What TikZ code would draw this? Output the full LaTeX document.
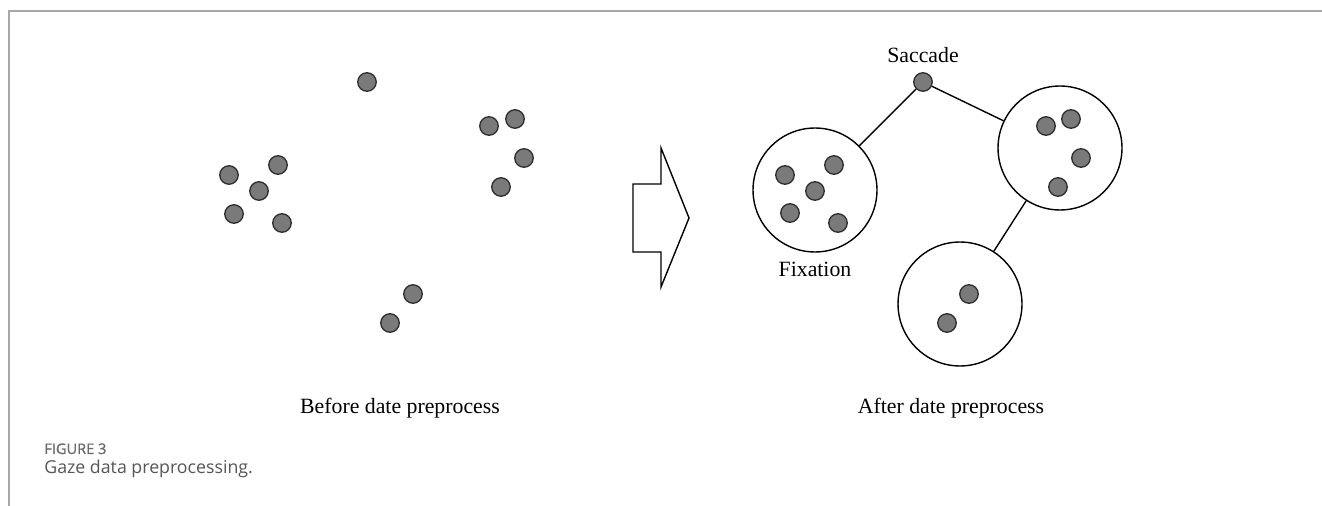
\documentclass[tikz,border=0pt]{standalone}
\usepackage{fontspec}
\setmainfont{Liberation Serif}
\newfontfamily\captionfont{Open Sans}
\newfontfamily\figlabelfont{Open Sans}[FakeBold=1.2]
\usepackage{tikz}
\usetikzlibrary{positioning}
\definecolor{gazegray}{HTML}{7A7A7A}
\definecolor{gazeedge}{HTML}{2E2E2E}
\definecolor{framegray}{HTML}{A8A8A8}
\definecolor{figlabelgray}{HTML}{6A6A6A}
\definecolor{captiongray}{HTML}{555555}

\begin{document}
\begin{tikzpicture}[
    x=0.02cm, y=-0.02cm,
    every node/.style={font=\fontsize{12.4}{14}\selectfont},
    gazedot/.style={circle, draw=gazeedge, fill=gazegray, line width=0.75pt, minimum size=0.37cm, inner sep=0pt},
    fixcircle/.style={circle, draw=black, line width=0.8pt, minimum size=2.48cm, inner sep=0pt},
    link/.style={draw=black, line width=0.8pt},
]
\useasboundingbox (0,0) rectangle (1322,506);
\draw[framegray, line width=0.6pt] (1322,11) -- (9,11) -- (9,506);

\node[gazedot] (b1) at (367,82) {};
\node[gazedot] (b2) at (489,126) {};
\node[gazedot] (b3) at (515,119) {};
\node[gazedot] (b4) at (524,158) {};
\node[gazedot] (b5) at (501,187) {};
\node[gazedot] (b6) at (229,175) {};
\node[gazedot] (b7) at (278,165) {};
\node[gazedot] (b8) at (259,191) {};
\node[gazedot] (b9) at (234,214) {};
\node[gazedot] (b10) at (282,223) {};
\node[gazedot] (b11) at (413,294) {};
\node[gazedot] (b12) at (390,323) {};

\draw[black, line width=0.8pt] (633,184) -- (661,184) -- (661,148) -- (689,218) -- (661,287) -- (661,252) -- (633,252) -- cycle;

\node[fixcircle] (fixA) at (815,190) {};
\node[fixcircle] (fixB) at (1060,148) {};
\node[fixcircle] (fixC) at (960,304) {};
\node[gazedot] (sac) at (923,82) {};

\node[gazedot] (a1) at (785,175) {};
\node[gazedot] (a2) at (834,165) {};
\node[gazedot] (a3) at (815,191) {};
\node[gazedot] (a4) at (790,213) {};
\node[gazedot] (a5) at (838,223) {};
\node[gazedot] (c1) at (1046,126) {};
\node[gazedot] (c2) at (1071,119) {};
\node[gazedot] (c3) at (1081,158) {};
\node[gazedot] (c4) at (1058,187) {};
\node[gazedot] (d1) at (969,294) {};
\node[gazedot] (d2) at (947,323) {};

\path[link] (sac) -- (fixA);
\path[link] (sac) -- (fixB);
\path[link] (fixB) -- (fixC);

\node[above=0.06cm of sac] (saclabel) {Saccade};
\node[below=0.06cm of fixA] (fixlabel) {Fixation};

\node (before) at (400,408) {Before date preprocess};
\node (after) at (951,408) {After date preprocess};

\node[anchor=base west, inner sep=0pt, text=figlabelgray, font=\figlabelfont\fontsize{8.3}{10}\selectfont] (fignum) at (44,454) {FIGURE 3};
\node[anchor=base west, inner sep=0pt, text=captiongray, font=\captionfont\fontsize{10.1}{12}\selectfont] (figcap) at (44,474) {Gaze data preprocessing.};

\end{tikzpicture}
\end{document}
